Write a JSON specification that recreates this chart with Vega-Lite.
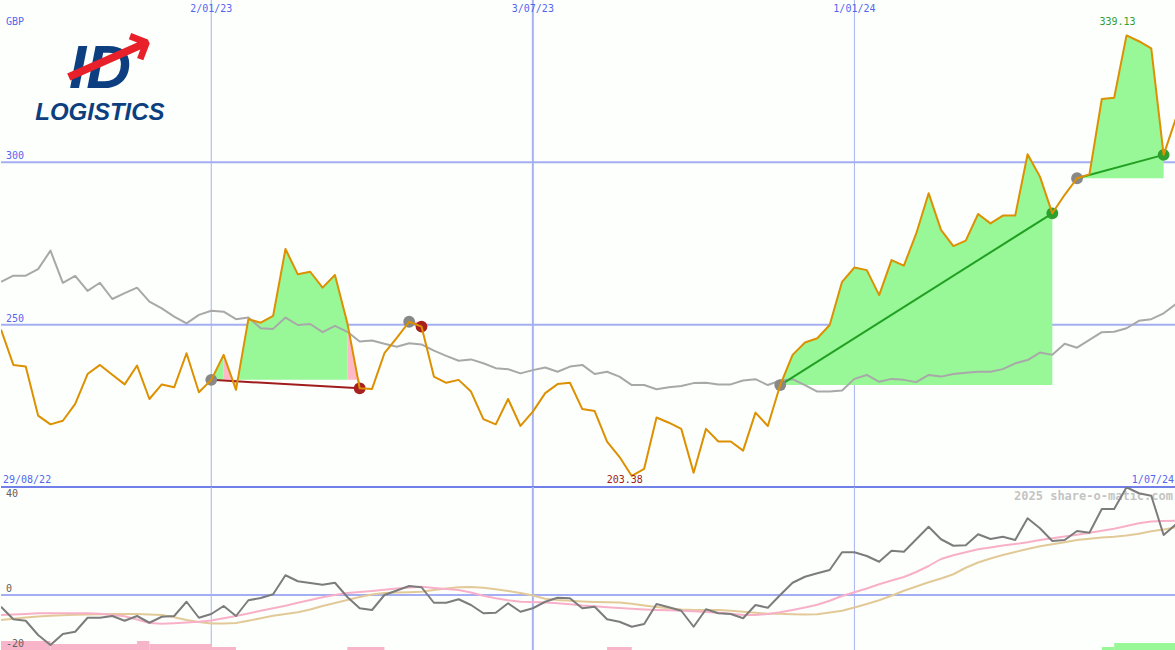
{
  "$schema": "https://vega.github.io/schema/vega-lite/v6.json",
  "background": "#fdfffd",
  "padding": 0,
  "bounds": "flush",
  "spacing": 0,
  "config": {"view": {"stroke": null}, "text": {"font": "DejaVu Sans Mono"}},
  "resolve": {"scale": {"y": "independent", "color": "independent"}},
  "datasets": {
    "main": [
      {"d":"2022-09-05","p":248.5,"m":263.2,"o":-4.7,"s":-8.0,"t":-10.0},
      {"d":"2022-09-12","p":237.6,"m":265.1,"o":-9.7,"s":-7.8,"t":-9.5},
      {"d":"2022-09-19","p":237.1,"m":265.1,"o":-10.3,"s":-7.6,"t":-9.0},
      {"d":"2022-09-26","p":222.0,"m":267.1,"o":-16.0,"s":-7.3,"t":-8.6},
      {"d":"2022-10-03","p":219.3,"m":272.8,"o":-20.0,"s":-7.3,"t":-8.3},
      {"d":"2022-10-10","p":220.4,"m":262.9,"o":-15.6,"s":-7.3,"t":-8.1},
      {"d":"2022-10-17","p":225.6,"m":265.0,"o":-14.7,"s":-7.3,"t":-7.9},
      {"d":"2022-10-24","p":234.8,"m":260.4,"o":-9.1,"s":-7.3,"t":-7.8},
      {"d":"2022-10-31","p":237.6,"m":262.9,"o":-9.1,"s":-7.5,"t":-7.7},
      {"d":"2022-11-07","p":234.6,"m":257.9,"o":-8.4,"s":-8.0,"t":-7.6},
      {"d":"2022-11-14","p":231.6,"m":259.7,"o":-10.3,"s":-8.5,"t":-7.6},
      {"d":"2022-11-21","p":237.4,"m":261.4,"o":-8.4,"s":-9.8,"t":-7.6},
      {"d":"2022-11-28","p":227.1,"m":257.1,"o":-11.1,"s":-11.2,"t":-7.8},
      {"d":"2022-12-05","p":231.6,"m":255.0,"o":-8.7,"s":-11.5,"t":-8.0},
      {"d":"2022-12-12","p":230.7,"m":252.5,"o":-8.4,"s":-11.3,"t":-8.9},
      {"d":"2022-12-19","p":241.2,"m":250.4,"o":-2.7,"s":-11.0,"t":-10.0},
      {"d":"2022-12-26","p":229.2,"m":253.0,"o":-9.1,"s":-10.7,"t":-10.8},
      {"d":"2023-01-02","p":233.0,"m":254.3,"o":-7.6,"s":-10.2,"t":-11.4},
      {"d":"2023-01-09","p":240.7,"m":254.0,"o":-4.4,"s":-9.3,"t":-11.4},
      {"d":"2023-01-16","p":229.9,"m":251.7,"o":-8.4,"s":-8.4,"t":-11.2},
      {"d":"2023-01-23","p":251.7,"m":252.2,"o":-2.1,"s":-7.4,"t":-10.3},
      {"d":"2023-01-30","p":250.6,"m":248.9,"o":-1.2,"s":-6.3,"t":-9.3},
      {"d":"2023-02-06","p":252.7,"m":248.7,"o":0.3,"s":-5.3,"t":-8.3},
      {"d":"2023-02-13","p":273.3,"m":252.2,"o":7.9,"s":-4.3,"t":-7.6},
      {"d":"2023-02-20","p":265.5,"m":249.9,"o":5.5,"s":-3.1,"t":-6.9},
      {"d":"2023-02-27","p":266.3,"m":250.2,"o":4.8,"s":-2.0,"t":-5.8},
      {"d":"2023-03-06","p":261.4,"m":247.7,"o":4.1,"s":-0.9,"t":-4.4},
      {"d":"2023-03-13","p":265.3,"m":249.6,"o":4.9,"s":0.0,"t":-3.2},
      {"d":"2023-03-20","p":250.5,"m":247.8,"o":-0.8,"s":0.8,"t":-2.0},
      {"d":"2023-03-27","p":230.4,"m":244.8,"o":-5.3,"s":1.2,"t":-0.8},
      {"d":"2023-04-03","p":230.2,"m":245.1,"o":-6.0,"s":1.6,"t":0.2},
      {"d":"2023-04-10","p":241.2,"m":244.1,"o":0.0,"s":2.1,"t":0.8},
      {"d":"2023-04-17","p":245.9,"m":243.2,"o":1.8,"s":2.6,"t":1.0},
      {"d":"2023-04-24","p":250.9,"m":244.3,"o":3.6,"s":3.0,"t":1.1},
      {"d":"2023-05-01","p":249.4,"m":243.9,"o":3.1,"s":3.3,"t":1.3},
      {"d":"2023-05-08","p":234.0,"m":242.0,"o":-3.1,"s":2.8,"t":2.0},
      {"d":"2023-05-15","p":232.1,"m":240.4,"o":-3.1,"s":2.4,"t":2.6},
      {"d":"2023-05-22","p":233.0,"m":238.9,"o":-1.7,"s":2.0,"t":3.1},
      {"d":"2023-05-29","p":229.4,"m":239.3,"o":-4.0,"s":1.0,"t":3.2},
      {"d":"2023-06-05","p":220.9,"m":238.1,"o":-7.3,"s":-0.3,"t":2.9},
      {"d":"2023-06-12","p":219.3,"m":236.6,"o":-7.1,"s":-1.3,"t":2.3},
      {"d":"2023-06-19","p":227.1,"m":236.3,"o":-3.3,"s":-2.1,"t":1.6},
      {"d":"2023-06-26","p":218.8,"m":235.0,"o":-6.7,"s":-2.7,"t":0.8},
      {"d":"2023-07-03","p":223.2,"m":236.0,"o":-5.3,"s":-2.8,"t":-0.2},
      {"d":"2023-07-10","p":228.9,"m":236.8,"o":-2.7,"s":-3.0,"t":-1.5},
      {"d":"2023-07-17","p":231.7,"m":235.5,"o":-1.1,"s":-3.3,"t":-2.0},
      {"d":"2023-07-24","p":232.1,"m":237.1,"o":-1.3,"s":-3.7,"t":-2.3},
      {"d":"2023-07-31","p":224.0,"m":237.6,"o":-5.3,"s":-4.2,"t":-2.6},
      {"d":"2023-08-07","p":223.4,"m":234.8,"o":-4.7,"s":-4.5,"t":-2.8},
      {"d":"2023-08-14","p":214.0,"m":235.5,"o":-9.7,"s":-4.9,"t":-2.9},
      {"d":"2023-08-21","p":209.3,"m":234.0,"o":-10.7,"s":-5.2,"t":-3.0},
      {"d":"2023-08-28","p":203.4,"m":231.4,"o":-12.7,"s":-5.5,"t":-3.5},
      {"d":"2023-09-04","p":205.6,"m":231.4,"o":-11.6,"s":-5.8,"t":-4.2},
      {"d":"2023-09-11","p":221.4,"m":230.1,"o":-3.6,"s":-6.0,"t":-4.8},
      {"d":"2023-09-18","p":219.8,"m":230.7,"o":-4.9,"s":-6.1,"t":-5.3},
      {"d":"2023-09-25","p":217.9,"m":231.1,"o":-6.3,"s":-6.3,"t":-5.8},
      {"d":"2023-10-02","p":204.4,"m":232.0,"o":-12.7,"s":-6.5,"t":-6.0},
      {"d":"2023-10-09","p":217.9,"m":232.1,"o":-5.7,"s":-6.8,"t":-6.0},
      {"d":"2023-10-16","p":214.0,"m":231.6,"o":-7.3,"s":-7.1,"t":-6.0},
      {"d":"2023-10-23","p":214.0,"m":231.6,"o":-7.6,"s":-7.5,"t":-6.3},
      {"d":"2023-10-30","p":211.2,"m":232.8,"o":-9.3,"s":-8.0,"t":-6.7},
      {"d":"2023-11-06","p":222.9,"m":233.2,"o":-4.0,"s":-8.0,"t":-7.1},
      {"d":"2023-11-13","p":218.8,"m":231.4,"o":-5.1,"s":-7.6,"t":-7.5},
      {"d":"2023-11-20","p":231.4,"m":232.8,"o":0.0,"s":-6.9,"t":-7.5},
      {"d":"2023-11-27","p":240.7,"m":233.2,"o":4.9,"s":-6.0,"t":-7.7},
      {"d":"2023-12-04","p":244.5,"m":231.4,"o":7.3,"s":-5.0,"t":-7.8},
      {"d":"2023-12-11","p":245.8,"m":229.4,"o":8.7,"s":-3.9,"t":-7.7},
      {"d":"2023-12-18","p":249.9,"m":229.4,"o":10.0,"s":-2.3,"t":-7.0},
      {"d":"2023-12-25","p":263.2,"m":229.7,"o":17.1,"s":-0.4,"t":-6.3},
      {"d":"2024-01-01","p":267.6,"m":233.3,"o":17.1,"s":1.1,"t":-5.0},
      {"d":"2024-01-08","p":266.8,"m":234.5,"o":15.6,"s":2.6,"t":-3.6},
      {"d":"2024-01-15","p":259.1,"m":232.4,"o":13.3,"s":4.3,"t":-2.1},
      {"d":"2024-01-22","p":269.9,"m":233.3,"o":17.7,"s":5.8,"t":-0.3},
      {"d":"2024-01-29","p":268.2,"m":233.0,"o":17.3,"s":7.2,"t":1.7},
      {"d":"2024-02-05","p":278.1,"m":232.3,"o":22.3,"s":9.2,"t":3.4},
      {"d":"2024-02-12","p":290.5,"m":234.5,"o":27.3,"s":11.6,"t":5.1},
      {"d":"2024-02-19","p":279.2,"m":234.0,"o":22.3,"s":14.4,"t":6.6},
      {"d":"2024-02-26","p":274.2,"m":234.8,"o":19.7,"s":15.9,"t":8.3},
      {"d":"2024-03-04","p":275.9,"m":235.2,"o":19.9,"s":17.1,"t":10.9},
      {"d":"2024-03-11","p":284.1,"m":235.5,"o":24.3,"s":18.3,"t":13.0},
      {"d":"2024-03-18","p":281.2,"m":235.5,"o":22.4,"s":19.0,"t":14.6},
      {"d":"2024-03-25","p":283.6,"m":236.3,"o":23.3,"s":19.8,"t":16.0},
      {"d":"2024-04-01","p":283.6,"m":238.1,"o":22.0,"s":20.4,"t":17.2},
      {"d":"2024-04-08","p":302.5,"m":239.1,"o":30.7,"s":21.1,"t":18.4},
      {"d":"2024-04-15","p":295.6,"m":241.4,"o":26.7,"s":22.0,"t":19.5},
      {"d":"2024-04-22","p":284.3,"m":240.7,"o":21.6,"s":22.7,"t":20.3},
      {"d":"2024-04-29","p":290.0,"m":244.1,"o":22.0,"s":23.4,"t":21.1},
      {"d":"2024-05-06","p":295.1,"m":242.9,"o":25.6,"s":24.1,"t":22.0},
      {"d":"2024-05-13","p":296.3,"m":245.3,"o":24.9,"s":24.9,"t":22.5},
      {"d":"2024-05-20","p":319.5,"m":247.7,"o":34.4,"s":25.7,"t":23.0},
      {"d":"2024-05-27","p":319.9,"m":247.8,"o":34.4,"s":26.5,"t":23.3},
      {"d":"2024-06-03","p":339.1,"m":248.9,"o":43.1,"s":27.6,"t":23.8},
      {"d":"2024-06-10","p":337.3,"m":251.2,"o":40.7,"s":28.7,"t":24.5},
      {"d":"2024-06-17","p":335.1,"m":251.7,"o":39.7,"s":29.4,"t":25.5},
      {"d":"2024-06-24","p":302.3,"m":253.5,"o":24.0,"s":29.6,"t":26.2},
      {"d":"2024-07-01","p":313.6,"m":256.4,"o":28.3,"s":29.7,"t":27.1}
    ],
    "fills": [
      {"g":1,"c":"up","b":233.0,"d":"2023-01-02","p":233.0},
      {"g":1,"c":"up","b":233.0,"d":"2023-01-09","p":240.7},
      {"g":2,"c":"dn","b":233.0,"d":"2023-01-09","p":240.7},
      {"g":2,"c":"dn","b":233.0,"d":"2023-01-16","p":229.9},
      {"g":3,"c":"up","b":233.0,"d":"2023-01-16","p":229.9},
      {"g":3,"c":"up","b":233.0,"d":"2023-01-23","p":251.7},
      {"g":3,"c":"up","b":233.0,"d":"2023-01-30","p":250.6},
      {"g":3,"c":"up","b":233.0,"d":"2023-02-06","p":252.7},
      {"g":3,"c":"up","b":233.0,"d":"2023-02-13","p":273.3},
      {"g":3,"c":"up","b":233.0,"d":"2023-02-20","p":265.5},
      {"g":3,"c":"up","b":233.0,"d":"2023-02-27","p":266.3},
      {"g":3,"c":"up","b":233.0,"d":"2023-03-06","p":261.4},
      {"g":3,"c":"up","b":233.0,"d":"2023-03-13","p":265.3},
      {"g":3,"c":"up","b":233.0,"d":"2023-03-20","p":250.5},
      {"g":4,"c":"dn","b":233.0,"d":"2023-03-20","p":250.5},
      {"g":4,"c":"dn","b":233.0,"d":"2023-03-27","p":230.4},
      {"g":5,"c":"dn","b":250.9,"d":"2023-04-24","p":250.9},
      {"g":5,"c":"dn","b":250.9,"d":"2023-05-01","p":249.4},
      {"g":6,"c":"up","b":231.4,"d":"2023-11-20","p":231.4},
      {"g":6,"c":"up","b":231.4,"d":"2023-11-27","p":240.7},
      {"g":6,"c":"up","b":231.4,"d":"2023-12-04","p":244.5},
      {"g":6,"c":"up","b":231.4,"d":"2023-12-11","p":245.8},
      {"g":6,"c":"up","b":231.4,"d":"2023-12-18","p":249.9},
      {"g":6,"c":"up","b":231.4,"d":"2023-12-25","p":263.2},
      {"g":6,"c":"up","b":231.4,"d":"2024-01-01","p":267.6},
      {"g":6,"c":"up","b":231.4,"d":"2024-01-08","p":266.8},
      {"g":6,"c":"up","b":231.4,"d":"2024-01-15","p":259.1},
      {"g":6,"c":"up","b":231.4,"d":"2024-01-22","p":269.9},
      {"g":6,"c":"up","b":231.4,"d":"2024-01-29","p":268.2},
      {"g":6,"c":"up","b":231.4,"d":"2024-02-05","p":278.1},
      {"g":6,"c":"up","b":231.4,"d":"2024-02-12","p":290.5},
      {"g":6,"c":"up","b":231.4,"d":"2024-02-19","p":279.2},
      {"g":6,"c":"up","b":231.4,"d":"2024-02-26","p":274.2},
      {"g":6,"c":"up","b":231.4,"d":"2024-03-04","p":275.9},
      {"g":6,"c":"up","b":231.4,"d":"2024-03-11","p":284.1},
      {"g":6,"c":"up","b":231.4,"d":"2024-03-18","p":281.2},
      {"g":6,"c":"up","b":231.4,"d":"2024-03-25","p":283.6},
      {"g":6,"c":"up","b":231.4,"d":"2024-04-01","p":283.6},
      {"g":6,"c":"up","b":231.4,"d":"2024-04-08","p":302.5},
      {"g":6,"c":"up","b":231.4,"d":"2024-04-15","p":295.6},
      {"g":6,"c":"up","b":231.4,"d":"2024-04-22","p":284.3},
      {"g":7,"c":"up","b":295.1,"d":"2024-05-06","p":295.1},
      {"g":7,"c":"up","b":295.1,"d":"2024-05-13","p":296.3},
      {"g":7,"c":"up","b":295.1,"d":"2024-05-20","p":319.5},
      {"g":7,"c":"up","b":295.1,"d":"2024-05-27","p":319.9},
      {"g":7,"c":"up","b":295.1,"d":"2024-06-03","p":339.1},
      {"g":7,"c":"up","b":295.1,"d":"2024-06-10","p":337.3},
      {"g":7,"c":"up","b":295.1,"d":"2024-06-17","p":335.1},
      {"g":7,"c":"up","b":295.1,"d":"2024-06-24","p":302.3}
    ],
    "trades": [
      {"d1":"2023-01-02","p1":233.0,"d2":"2023-03-27","p2":230.4,"r":"loss"},
      {"d1":"2023-04-24","p1":250.9,"d2":"2023-05-01","p2":249.4,"r":"loss"},
      {"d1":"2023-11-20","p1":231.4,"d2":"2024-04-22","p2":284.3,"r":"win"},
      {"d1":"2024-05-06","p1":295.1,"d2":"2024-06-24","p2":302.3,"r":"win"}
    ],
    "signals": [
      {"d":"2023-01-02","p":233.0,"k":"open"},
      {"d":"2023-03-27","p":230.4,"k":"loss"},
      {"d":"2023-04-24","p":250.9,"k":"open"},
      {"d":"2023-05-01","p":249.4,"k":"loss"},
      {"d":"2023-11-20","p":231.4,"k":"open"},
      {"d":"2024-04-22","p":284.3,"k":"win"},
      {"d":"2024-05-06","p":295.1,"k":"open"},
      {"d":"2024-06-24","p":302.3,"k":"win"}
    ],
    "bars": [
      {"d1":"2022-09-05","d2":"2022-10-03","v":-18.4,"c":"neg"},
      {"d1":"2022-10-03","d2":"2022-11-21","v":-19.6,"c":"neg"},
      {"d1":"2022-11-21","d2":"2022-11-28","v":-18.4,"c":"neg"},
      {"d1":"2022-11-28","d2":"2023-01-02","v":-19.6,"c":"neg"},
      {"d1":"2023-01-02","d2":"2023-01-16","v":-20.8,"c":"neg"},
      {"d1":"2023-03-20","d2":"2023-04-10","v":-20.8,"c":"neg"},
      {"d1":"2023-08-14","d2":"2023-08-28","v":-20.8,"c":"neg"},
      {"d1":"2024-05-20","d2":"2024-05-27","v":-20.8,"c":"pos"},
      {"d1":"2024-05-27","d2":"2024-07-01","v":-19.2,"c":"pos"}
    ]
  },
  "vconcat": [
    {
      "width": 1175,
      "height": 487,
      "resolve": {"scale": {"color": "independent"}},
      "layer": [
        {
          "data": {"values": [{"d":"2023-01-02"},{"d":"2024-01-01"}]},
          "mark": {"type":"rule","color":"#a8b2f2","strokeWidth":1,"clip":true},
          "encoding": {"x": {"field":"d","type":"temporal","axis":null,"scale":{"domain":["2022-09-05","2024-07-01"],"nice":false}}}
        },
        {
          "data": {"values": [{"d":"2023-07-03"}]},
          "mark": {"type":"rule","color":"#a8b2f2","strokeWidth":2,"clip":true},
          "encoding": {"x": {"field":"d","type":"temporal","axis":null}}
        },
        {
          "data": {"values": [{"v":300},{"v":250}]},
          "mark": {"type":"rule","color":"#a4aef2","strokeWidth":2,"clip":true},
          "encoding": {"y": {"field":"v","type":"quantitative","axis":null,"scale":{"domain":[200,350],"nice":false,"zero":false}}}
        },
        {
          "data": {"name":"fills"},
          "mark": {"type":"area","opacity":1,"clip":true},
          "encoding": {
            "x": {"field":"d","type":"temporal","axis":null},
            "y": {"field":"p","type":"quantitative","axis":null},
            "y2": {"field":"b"},
            "detail": {"field":"g","type":"nominal"},
            "color": {"field":"c","type":"nominal","legend":null,"scale":{"domain":["up","dn"],"range":["#98f898","#ffb8c8"]}}
          }
        },
        {
          "data": {"name":"main"},
          "mark": {"type":"line","color":"#a8a8a8","strokeWidth":2,"clip":true,"strokeJoin":"round"},
          "encoding": {
            "x": {"field":"d","type":"temporal","axis":null},
            "y": {"field":"m","type":"quantitative","axis":null}
          }
        },
        {
          "data": {"name":"trades"},
          "mark": {"type":"rule","strokeWidth":2,"clip":true},
          "encoding": {
            "x": {"field":"d1","type":"temporal","axis":null},
            "x2": {"field":"d2"},
            "y": {"field":"p1","type":"quantitative","axis":null},
            "y2": {"field":"p2"},
            "stroke": {"field":"r","type":"nominal","legend":null,"scale":{"domain":["loss","win"],"range":["#a01c1c","#22a022"]}}
          }
        },
        {
          "data": {"name":"signals"},
          "mark": {"type":"circle","size":140,"opacity":1},
          "encoding": {
            "x": {"field":"d","type":"temporal","axis":null},
            "y": {"field":"p","type":"quantitative","axis":null},
            "fill": {"field":"k","type":"nominal","legend":null,"scale":{"domain":["open","loss","win"],"range":["#888888","#a82020","#2ea02e"]}}
          }
        },
        {
          "data": {"name":"main"},
          "mark": {"type":"line","color":"#dd9000","strokeWidth":2,"clip":true,"strokeJoin":"round"},
          "encoding": {
            "x": {"field":"d","type":"temporal","axis":null},
            "y": {"field":"p","type":"quantitative","axis":null}
          }
        },
        {
          "data": {"values": [{"v":200}]},
          "mark": {"type":"rule","color":"#7080e8","strokeWidth":2},
          "encoding": {"y": {"field":"v","type":"quantitative","axis":null}}
        },
        {
          "data": {"values": [{"d":"2022-09-05","v":350,"t":"GBP"}]},
          "mark": {"type":"text","align":"left","baseline":"alphabetic","dx":5,"dy":25,"fontSize":10,"color":"#5566ee"},
          "encoding": {"x": {"field":"d","type":"temporal","axis":null},"y": {"field":"v","type":"quantitative","axis":null},"text": {"field":"t"}}
        },
        {
          "data": {"values": [{"d":"2023-01-02","v":350,"t":"2/01/23"},{"d":"2023-07-03","v":350,"t":"3/07/23"},{"d":"2024-01-01","v":350,"t":"1/01/24"}]},
          "mark": {"type":"text","align":"center","baseline":"alphabetic","dy":12,"fontSize":10,"color":"#5566ee"},
          "encoding": {"x": {"field":"d","type":"temporal","axis":null},"y": {"field":"v","type":"quantitative","axis":null},"text": {"field":"t"}}
        },
        {
          "data": {"values": [{"d":"2022-09-05","v":300,"t":"300"},{"d":"2022-09-05","v":250,"t":"250"}]},
          "mark": {"type":"text","align":"left","baseline":"alphabetic","dx":5,"dy":-3,"fontSize":10,"color":"#5566ee"},
          "encoding": {"x": {"field":"d","type":"temporal","axis":null},"y": {"field":"v","type":"quantitative","axis":null},"text": {"field":"t"}}
        },
        {
          "data": {"values": [{"d":"2022-09-05","v":200,"t":"29/08/22"}]},
          "mark": {"type":"text","align":"left","baseline":"alphabetic","dx":2,"dy":-4,"fontSize":10,"color":"#5566ee"},
          "encoding": {"x": {"field":"d","type":"temporal","axis":null},"y": {"field":"v","type":"quantitative","axis":null},"text": {"field":"t"}}
        },
        {
          "data": {"values": [{"d":"2024-07-01","v":200,"t":"1/07/24"}]},
          "mark": {"type":"text","align":"right","baseline":"alphabetic","dx":-2,"dy":-4,"fontSize":10,"color":"#5566ee"},
          "encoding": {"x": {"field":"d","type":"temporal","axis":null},"y": {"field":"v","type":"quantitative","axis":null},"text": {"field":"t"}}
        },
        {
          "data": {"values": [{"d":"2023-08-28","v":200,"t":"203.38"}]},
          "mark": {"type":"text","align":"center","baseline":"alphabetic","dx":-7,"dy":-4,"fontSize":10,"color":"#a02020"},
          "encoding": {"x": {"field":"d","type":"temporal","axis":null},"y": {"field":"v","type":"quantitative","axis":null},"text": {"field":"t"}}
        },
        {
          "data": {"values": [{"d":"2024-06-03","v":339.1,"t":"339.13"}]},
          "mark": {"type":"text","align":"center","baseline":"alphabetic","dx":-9,"dy":-10,"fontSize":10,"color":"#30a030"},
          "encoding": {"x": {"field":"d","type":"temporal","axis":null},"y": {"field":"v","type":"quantitative","axis":null},"text": {"field":"t"}}
        },
        {
          "data": {"values": [{"d":"2022-10-31","v":322.9,"t":"ID"}]},
          "mark": {"type":"text","align":"center","baseline":"alphabetic","fontSize":62,"font":"Liberation Sans","fontWeight":"bold","fontStyle":"italic","color":"#0d3f80"},
          "encoding": {"x": {"field":"d","type":"temporal","axis":null},"y": {"field":"v","type":"quantitative","axis":null},"text": {"field":"t"}}
        },
        {
          "data": {"values": [{"d":"2022-11-05","v":331.5,"t":"⟶"}]},
          "mark": {"type":"text","align":"center","baseline":"middle","angle":-24,"fontSize":66,"font":"DejaVu Sans","fontWeight":"bold","color":"#e8202a"},
          "encoding": {"x": {"field":"d","type":"temporal","axis":null},"y": {"field":"v","type":"quantitative","axis":null},"text": {"field":"t"}}
        },
        {
          "data": {"values": [{"d":"2022-10-31","v":312.9,"t":"LOGISTICS"}]},
          "mark": {"type":"text","align":"center","baseline":"alphabetic","fontSize":24,"font":"Liberation Sans","fontWeight":"bold","fontStyle":"italic","color":"#0d3f80"},
          "encoding": {"x": {"field":"d","type":"temporal","axis":null},"y": {"field":"v","type":"quantitative","axis":null},"text": {"field":"t"}}
        }
      ]
    },
    {
      "width": 1175,
      "height": 163,
      "layer": [
        {
          "data": {"values": [{"d":"2023-01-02"},{"d":"2024-01-01"}]},
          "mark": {"type":"rule","color":"#a8b2f2","strokeWidth":1,"clip":true},
          "encoding": {"x": {"field":"d","type":"temporal","axis":null,"scale":{"domain":["2022-09-05","2024-07-01"],"nice":false}}}
        },
        {
          "data": {"values": [{"d":"2023-07-03"}]},
          "mark": {"type":"rule","color":"#a8b2f2","strokeWidth":2,"clip":true},
          "encoding": {"x": {"field":"d","type":"temporal","axis":null}}
        },
        {
          "data": {"values": [{"v":0}]},
          "mark": {"type":"rule","color":"#a4aef2","strokeWidth":2,"clip":true},
          "encoding": {"y": {"field":"v","type":"quantitative","axis":null,"scale":{"domain":[-22,43.2],"nice":false,"zero":false}}}
        },
        {
          "data": {"name":"bars"},
          "mark": {"type":"rect","clip":true},
          "encoding": {
            "x": {"field":"d1","type":"temporal","axis":null},
            "x2": {"field":"d2"},
            "y": {"field":"v","type":"quantitative","axis":null},
            "y2": {"datum":-22},
            "color": {"field":"c","type":"nominal","legend":null,"scale":{"domain":["neg","pos"],"range":["#f8b4c8","#98f898"]}}
          }
        },
        {
          "data": {"values": [{"d":"2024-07-01","v":40,"t":"2025 share-o-matic.com"}]},
          "mark": {"type":"text","align":"right","baseline":"middle","dx":-3,"dy":1,"fontSize":12,"fontWeight":"bold","color":"#c4c4c4"},
          "encoding": {"x": {"field":"d","type":"temporal","axis":null},"y": {"field":"v","type":"quantitative","axis":null},"text": {"field":"t"}}
        },
        {
          "data": {"name":"main"},
          "mark": {"type":"line","color":"#e2ca98","strokeWidth":2,"clip":true,"strokeJoin":"round"},
          "encoding": {"x": {"field":"d","type":"temporal","axis":null},"y": {"field":"t","type":"quantitative","axis":null}}
        },
        {
          "data": {"name":"main"},
          "mark": {"type":"line","color":"#f8b0c8","strokeWidth":2,"clip":true,"strokeJoin":"round"},
          "encoding": {"x": {"field":"d","type":"temporal","axis":null},"y": {"field":"s","type":"quantitative","axis":null}}
        },
        {
          "data": {"name":"main"},
          "mark": {"type":"line","color":"#7c7c7c","strokeWidth":2,"clip":true,"strokeJoin":"round"},
          "encoding": {"x": {"field":"d","type":"temporal","axis":null},"y": {"field":"o","type":"quantitative","axis":null}}
        },
        {
          "data": {"values": [{"d":"2022-09-05","v":40,"t":"40"},{"d":"2022-09-05","v":-20,"t":"-20"}]},
          "mark": {"type":"text","align":"left","baseline":"middle","dx":5,"dy":-1,"fontSize":10,"color":"#606060"},
          "encoding": {"x": {"field":"d","type":"temporal","axis":null},"y": {"field":"v","type":"quantitative","axis":null},"text": {"field":"t"}}
        },
        {
          "data": {"values": [{"d":"2022-09-05","v":0,"t":"0"}]},
          "mark": {"type":"text","align":"left","baseline":"alphabetic","dx":5,"dy":-3,"fontSize":10,"color":"#606060"},
          "encoding": {"x": {"field":"d","type":"temporal","axis":null},"y": {"field":"v","type":"quantitative","axis":null},"text": {"field":"t"}}
        }
      ]
    }
  ]
}
